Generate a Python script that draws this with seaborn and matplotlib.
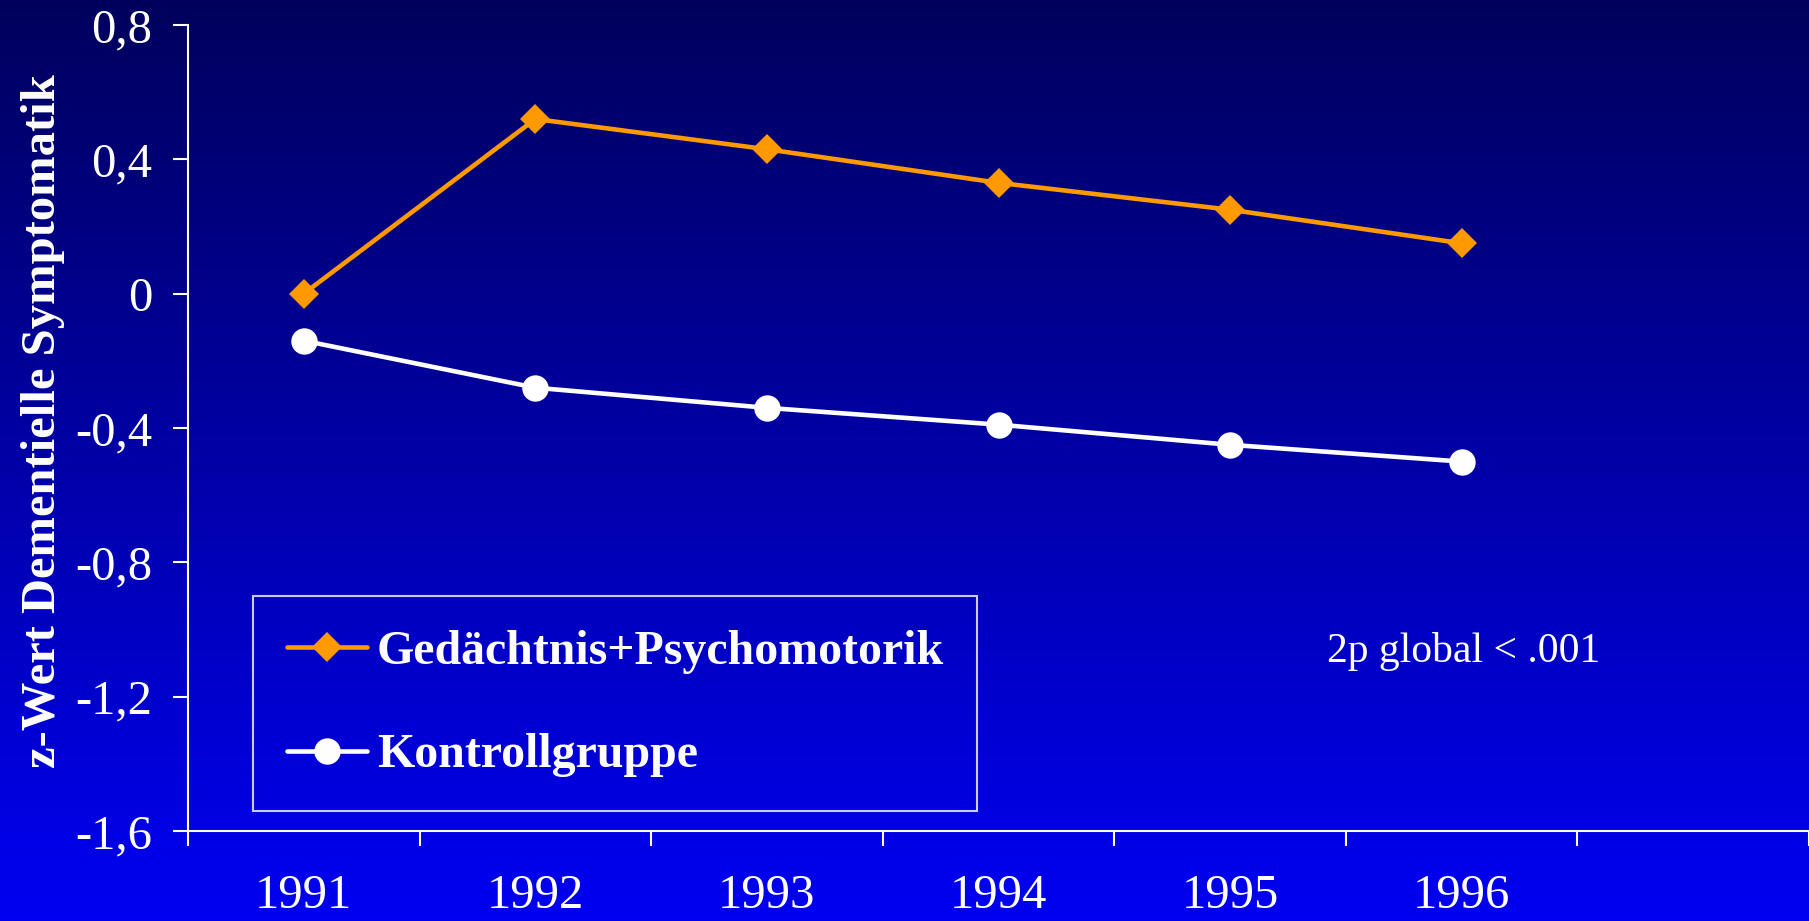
import numpy as np
import pandas as pd
import matplotlib
matplotlib.use("Agg")
import matplotlib.pyplot as plt
from matplotlib.colors import LinearSegmentedColormap
import seaborn as sns

# Daten
jahre = [1991, 1992, 1993, 1994, 1995, 1996]
gedaechtnis = [0.0, 0.52, 0.43, 0.33, 0.25, 0.15]
kontrolle = [-0.14, -0.28, -0.34, -0.39, -0.45, -0.50]
y_ticks = [-1.6, -1.2, -0.8, -0.4, 0.0, 0.4, 0.8]
y_labels = ["-1,6", "-1,2", "-0,8", "-0,4", "0", "0,4", "0,8"]

sns.set_style("white")
plt.rcParams['font.family'] = ['Liberation Serif', 'DejaVu Serif']
plt.rcParams['axes.unicode_minus'] = False

fig = plt.figure(figsize=(18.09, 9.21), dpi=100)

# Hintergrund-Verlauf
bg = fig.add_axes([0, 0, 1, 1], zorder=-10)
cmap = LinearSegmentedColormap.from_list("blau", ["#00005C", "#0000F2"])
bg.imshow(np.linspace(0, 1, 256).reshape(-1, 1), aspect="auto", cmap=cmap,
          extent=[0, 1, 0, 1], origin="upper")
bg.set_axis_off()

ax = fig.add_axes([188 / 1809, 1 - 831 / 921, 1 - 188 / 1809, (831 - 25) / 921])
ax.set_facecolor("none")

sns.lineplot(x=jahre, y=gedaechtnis, ax=ax, color="#FF9900", marker="D",
             markersize=15, linewidth=3.3, markeredgewidth=0,
             label="Gedächtnis+Psychomotorik")
sns.lineplot(x=jahre, y=kontrolle, ax=ax, color="white", marker="o",
             markersize=19, linewidth=3.3, markeredgewidth=0,
             label="Kontrollgruppe")

ax.set_xlim(1990.5, 1997.5)
ax.set_ylim(-1.6, 0.8)
ax.set_yticks(y_ticks, labels=y_labels)
ax.set_xticks(np.arange(1990.5, 1998, 1), labels=[""] * 8)
ax.set_xticks(jahre, labels=[str(j) for j in jahre], minor=True)

for s in ["top", "right"]:
    ax.spines[s].set_visible(False)
for s in ["left", "bottom"]:
    ax.spines[s].set_color("white")
    ax.spines[s].set_linewidth(1.5)

ax.tick_params(axis="y", which="major", direction="out", length=10.5, width=1.5,
               color="white", labelcolor="white", labelsize=35, pad=15, left=True)
ax.tick_params(axis="x", which="major", direction="out", length=11, width=1.5,
               color="white", bottom=True)
ax.tick_params(axis="x", which="minor", length=0, labelcolor="white",
               labelsize=35, pad=31, bottom=True)

ax.set_xlabel("")
ax.set_ylabel("z-Wert Dementielle Symptomatik", color="white",
              fontsize=35, fontweight="bold")
ax.yaxis.set_label_coords(-0.076, 0.509)

ax.text(1995.42, -1.098, "2p global < .001", color="white", fontsize=30,
        ha="left", va="baseline")

leg = ax.legend(loc="upper left", bbox_to_anchor=(253 / 1809, 1 - 596 / 921),
                bbox_transform=fig.transFigure, borderaxespad=0,
                frameon=True, fancybox=False, facecolor="none",
                edgecolor="white", prop={"size": 34.5, "weight": "bold"},
                handlelength=1.68, handletextpad=0.2, labelspacing=1.25,
                borderpad=0.7)
leg.get_frame().set_linewidth(1.5)
for t in leg.get_texts():
    t.set_color("white")

fig.savefig("out.png", dpi=100)
